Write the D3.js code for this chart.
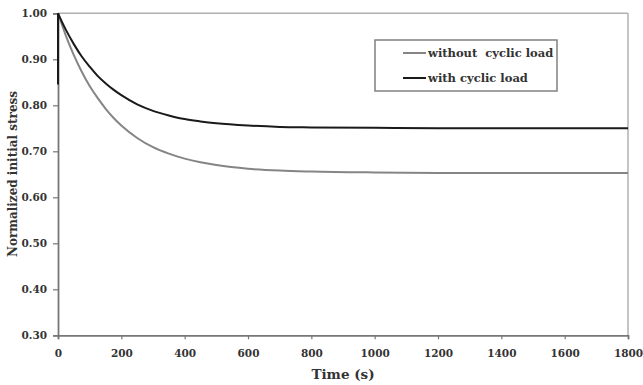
<!DOCTYPE html>
<html>
<head>
<meta charset="utf-8">
<script src="https://cdn.jsdelivr.net/npm/d3@7/dist/d3.min.js"></script>
<style>
  html, body { margin: 0; padding: 0; background: #fff; }
  svg { display: block; }
  text { font-family: "DejaVu Serif", "Liberation Serif", serif; font-weight: bold; fill: #333; }
</style>
</head>
<body>
<svg id="chart" width="643" height="385"></svg>
<script>
// ---- data ----
const times = [0, 25, 50, 75, 100, 125, 150, 175, 200, 250, 300, 350, 400, 450, 500, 600, 700, 800, 1000, 1200, 1400, 1600, 1800];
const withoutCyclic = [1.000, 0.951, 0.909, 0.873, 0.842, 0.816, 0.793, 0.773, 0.756, 0.729, 0.709, 0.695, 0.684, 0.676, 0.670, 0.662, 0.658, 0.656, 0.654, 0.653, 0.653, 0.653, 0.653];
const withCyclic    = [1.000, 0.964, 0.933, 0.906, 0.884, 0.864, 0.848, 0.834, 0.822, 0.802, 0.788, 0.778, 0.770, 0.765, 0.761, 0.756, 0.753, 0.752, 0.751, 0.750, 0.750, 0.750, 0.750];
const withCyclicStart = { time: 0, value: 0.845 };
const seriesNames = ["without  cyclic load", "with cyclic load"];
const xTicks = [0, 200, 400, 600, 800, 1000, 1200, 1400, 1600, 1800];
const yTicks = [0.30, 0.40, 0.50, 0.60, 0.70, 0.80, 0.90, 1.00];

// ---- layout ----
const svg = d3.select("#chart");
const m = { left: 58, right: 628, top: 13.3, bottom: 335.3 };
const x = d3.scaleLinear().domain([0, 1800]).range([m.left, m.right]);
const y = d3.scaleLinear().domain([0.30, 1.00]).range([m.bottom, m.top]);

// plot frame (top & right)
svg.append("line").attr("x1", m.left).attr("x2", m.right).attr("y1", m.top).attr("y2", m.top)
  .attr("stroke", "#b0b0b0").attr("stroke-width", 1.5);
svg.append("line").attr("x1", m.right).attr("x2", m.right).attr("y1", m.top).attr("y2", m.bottom)
  .attr("stroke", "#b0b0b0").attr("stroke-width", 1.5);

// axes
const yAxis = svg.append("g").attr("transform", `translate(${m.left},0)`)
  .call(d3.axisLeft(y).tickValues(yTicks).tickFormat(d3.format(".2f")).tickSize(5).tickPadding(6));
const xAxis = svg.append("g").attr("transform", `translate(0,${m.bottom})`)
  .call(d3.axisBottom(x).tickValues(xTicks).tickFormat(d3.format("d")).tickSize(4).tickPadding(10));
[yAxis, xAxis].forEach(g => {
  g.select(".domain").attr("stroke", "#777").attr("stroke-width", 1.8);
  g.selectAll(".tick line").attr("stroke", "#777").attr("stroke-width", 1.2);
  g.selectAll(".tick text").style("font-size", "10.5px").attr("fill", "#333")
    .style("font-family", '"DejaVu Serif", serif').style("font-weight", "bold");
});

// lines
const line = d3.line().x(d => x(d[0])).y(d => y(d[1]));
const grayData = times.map((t, i) => [t, withoutCyclic[i]]);
const blackData = [[withCyclicStart.time, withCyclicStart.value]].concat(times.map((t, i) => [t, withCyclic[i]]));
const curve = d3.line().x(d => x(d[0])).y(d => y(d[1])).curve(d3.curveMonotoneX);
svg.append("path").datum(grayData).attr("d", curve).attr("fill", "none")
  .attr("stroke", "#858585").attr("stroke-width", 2);
svg.append("path").datum(blackData.slice(0, 2)).attr("d", line).attr("fill", "none")
  .attr("stroke", "#1a1a1a").attr("stroke-width", 2);
svg.append("path").datum(blackData.slice(1)).attr("d", curve).attr("fill", "none")
  .attr("stroke", "#1a1a1a").attr("stroke-width", 2);

// axis titles
svg.append("text").attr("x", 343).attr("y", 379).attr("text-anchor", "middle")
  .style("font-size", "13.5px").attr("fill", "#222").text("Time (s)");
svg.append("text").attr("transform", "translate(17,174) rotate(-90)").attr("text-anchor", "middle")
  .style("font-size", "12px").attr("fill", "#222").text("Normalized initial stress");

// legend
const lg = svg.append("g");
lg.append("rect").attr("x", 375).attr("y", 40).attr("width", 182).attr("height", 51)
  .attr("fill", "#fff").attr("stroke", "#808080").attr("stroke-width", 1.5);
const legColors = ["#858585", "#1a1a1a"];
seriesNames.forEach((n, i) => {
  const yy = 53 + i * 25;
  lg.append("line").attr("x1", 403).attr("x2", 426).attr("y1", yy).attr("y2", yy)
    .attr("stroke", legColors[i]).attr("stroke-width", 2);
  lg.append("text").attr("x", 428).attr("y", yy + 4).style("font-size", "11.5px")
    .style("white-space", "pre").attr("xml:space", "preserve").attr("fill", "#222").text(n);
});
</script>
</body>
</html>
